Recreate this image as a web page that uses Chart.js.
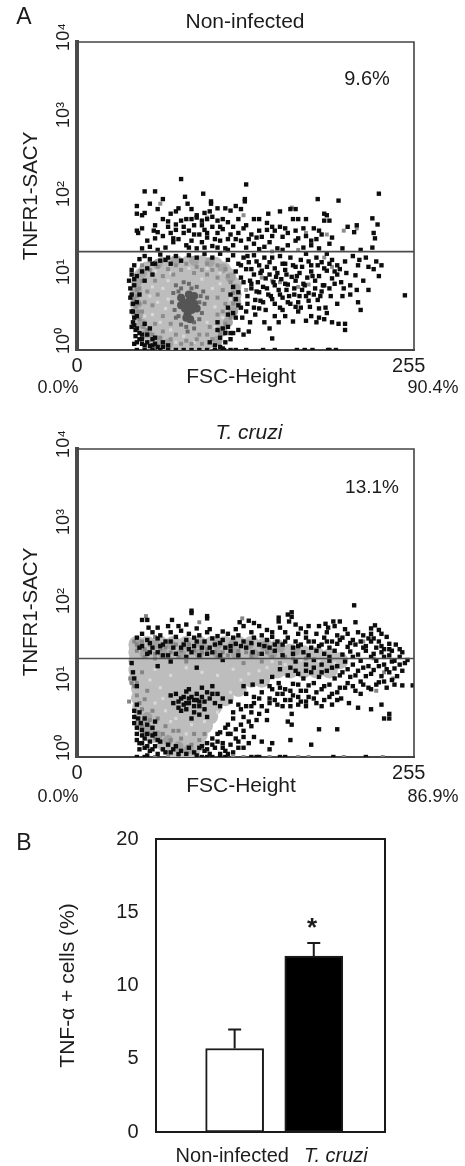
<!DOCTYPE html>
<html><head><meta charset="utf-8">
<script src="https://cdn.jsdelivr.net/npm/chart.js@4"></script>
<style>
html,body{margin:0;padding:0;background:#fff;width:465px;height:1166px;overflow:hidden}
canvas{position:absolute;left:0}
#c1,#c2{filter:blur(0.5px)}
#c3{filter:blur(0.3px)}
</style></head><body>
<canvas id="c1"></canvas><canvas id="c2"></canvas><canvas id="c3"></canvas>
<script>
// ---------- Panel A, Non-infected: [FSC, log10 TNFR1] ----------
const gateLog1 = 1.277, gateLog2 = 1.28;
const p1Black = [[80,2.22],[130,2.15],[232,2.03],[52,2.06],[60,2.06],[83,1.99],[97,2.03],[129,1.96],[129,1.93],[185,1.96],[201,1.94],[46,1.87],[46,1.77],[66,1.96],[56,1.9],[103,1.93],[103,1.9],[85,1.9],[62,1.83],[52,1.78],[50,1.75],[72,1.77],[76,1.8],[78,1.84],[88,1.83],[92,1.75],[98,1.78],[102,1.8],[108,1.84],[114,1.84],[118,1.81],[122,1.87],[126,1.83],[147,1.77],[156,1.8],[164,1.83],[168,1.83],[190,1.77],[192,1.75],[227,1.71],[231,1.63],[215,1.62],[208,1.6],
[46,1.55],[47,1.52],[50,1.58],[59,1.55],[62,1.53],[70,1.67],[70,1.6],[76,1.63],[80,1.68],[84,1.7],[88,1.7],[92,1.72],[96,1.68],[100,1.7],[104,1.73],[108,1.68],[112,1.7],[116,1.66],[120,1.6],[124,1.7],[130,1.62],[136,1.7],[140,1.7],[146,1.65],[150,1.6],[156,1.6],[160,1.58],[166,1.7],[170,1.7],[176,1.7],[182,1.58],[186,1.55],[190,1.68],[194,1.68],[146,1.56],
[54,1.42],[60,1.45],[66,1.48],[72,1.52],[76,1.56],[82,1.6],[86,1.55],[90,1.62],[94,1.5],[98,1.56],[104,1.6],[108,1.52],[112,1.57],[118,1.5],[124,1.52],[128,1.58],[134,1.5],[140,1.55],[142,1.47],[150,1.48],[158,1.47],[162,1.52],[170,1.45],[176,1.48],[180,1.42],[188,1.5],[196,1.46],[228,1.52],[229,1.45],[213,1.53],
[50,1.32],[56,1.34],[62,1.3],[68,1.33],[74,1.4],[78,1.44],[84,1.36],[88,1.42],[92,1.32],[96,1.4],[100,1.46],[104,1.35],[110,1.42],[114,1.32],[120,1.36],[126,1.42],[130,1.33],[136,1.38],[144,1.34],[148,1.4],[154,1.32],[162,1.36],[168,1.42],[174,1.33],[180,1.36],[186,1.32],[194,1.38],[204,1.32],[227,1.33],[218,1.3],
[48,1.18],[44,1.1],[42,1.04],[52,1.22],[56,1.18],[60,1.12],[64,1.24],[68,1.17],[72,1.12],[76,1.22],[80,1.16],[86,1.23],[92,1.2],[98,1.25],[104,1.2],[110,1.25],[116,1.17],[120,1.23],[124,1.12],[128,1.2],[132,1.14],[136,1.23],[140,1.1],[144,1.2],[148,1.14],[152,1.06],[156,1.22],[160,1.12],[164,1.2],[168,1.08],[172,1.17],[176,1.25],[180,1.1],[184,1.2],[188,1.14],[192,1.25],[196,1.17],[200,1.1],[206,1.15],[212,1.22],[216,1.1],[217,1.17],[222,1.2],[224,1.08],[228,1.05],[230,1.15],[234,1.1],
[46,.96],[50,1.02],[54,1.06],[58,.98],[44,.92],[122,1.02],[126,.94],[130,1.05],[133,.9],[136,.98],[139,.88],[142,1.03],[145,.93],[148,.98],[151,.88],[154,1],[157,.92],[160,1.04],[162,.85],[165,.95],[168,.9],[171,1],[174,.86],[177,.94],[180,1.02],[183,.9],[186,.96],[189,.84],[192,1.03],[196,.93],[200,.98],[203,.88],[207,1],[210,.84],[214,.97],[220,.9],[224,.78],[215,.78],[210,.72],[205,.8],[232,.96],
[41,.8],[42,.72],[41,.68],[43,.6],[120,.82],[124,.75],[128,.88],[131,.7],[134,.8],[137,.65],[140,.75],[143,.62],[146,.8],[149,.7],[152,.6],[155,.78],[158,.68],[161,.78],[164,.6],[167,.72],[170,.62],[173,.78],[176,.7],[179,.56],[182,.72],[185,.65],[188,.76],[191,.55],[195,.7],[200,.6],[204,.7],[252,.71],[216,.62],[218,.52],[192,.48],[186,.42],[170,.5],[160,.44],
[43,.5],[44,.42],[43,.36],[42,.3],[45,.26],[48,.22],[116,.55],[120,.48],[124,.58],[127,.42],[130,.5],[133,.36],[137,.46],[140,.54],[144,.36],[148,.28],[152,.44],[155,.36],[158,.52],[168,.56],[176,.38],[180,.44],[184,.36],[190,.4],[196,.36],[201,.34],[206,.34],[166,.37],
[45,.18],[50,.14],[54,.2],[46,.1],[44,.08],[58,.14],[60,.08],[52,.06],[56,.05],[62,.04],[66,.1],[70,.06],[108,.36],[112,.28],[116,.3],[120,.22],[124,.26],[128,.2],[132,.24],[118,.14],[114,.1],[110,.16],[106,.06],[112,.02],[102,.1],[206,.26],[150,.15],
[46,0],[52,0],[58,0],[64,0],[70,0],[76,0],[82,0],[88,0],[94,0],[100,0],[106,0],[113,0],[118,0],[122,0],[130,0],[143,0],[152,0],[169,0],[175,0],[181,0],[193,0],[199,0],[194,0],
[126,1.1],[131,1.22],[134,1.05],[138,1.15],[141,1],[146,1.08],[150,1.2],[153,.95],[158,1.12],[161,.98],[166,1.1],[169,.96],[173,1.08],[178,1.15],[181,.96],[185,1.1],[190,1.06],[194,1.12],[198,1.02],[202,1.05],[134,.86],[138,.76],[143,.82],[147,.72],[152,.84],[156,.72],[160,.86],[163,.7],[167,.8],[171,.7],[175,.84],[178,.74],[183,.8],[187,.7],[190,.84],[194,.8],[198,.86],[131,.6],[136,.55],[141,.64],[145,.52],[150,.66],[156,.55],[162,.62],[172,.55],[178,.64],[186,.54],[122,.66],[118,.72],[126,.55],[122,.42],[116,.46],[118,.22],[114,.22],[110,.04],[108,.26],
[42,.98],[40,.9],[44,.84],[42,.5],[46,.44],[44,.32],[46,.28],[50,.2],[48,.14],[54,.1],[58,.06],[66,.04],[46,.62],[48,.72],[52,.9],[52,.34],[56,.28],[60,.16],[50,.08],[64,1.16],[70,1.2],[58,1.12],
[60,1.62],[66,1.7],[74,1.45],[82,1.52],[90,1.5],[96,1.62],[100,1.52],[106,1.44],[110,1.6],[116,1.44],[122,1.44],[132,1.44],[138,1.46],[152,1.55],[168,1.55],[174,1.58],[184,1.44],[86,1.33],[98,1.33],[108,1.33],[116,1.3],[140,1.31],[158,1.3]];
const p1Mid = [[50,1.1],[56,1.04],[62,1.08],[70,1.05],[76,1.1],[84,1.12],[92,1.08],[100,1.12],[108,1.1],[114,1.05],[50,.9],[48,.8],[46,.7],[48,.6],[47,.5],[48,.4],[51,.3],[54,.26],[58,.2],[64,.16],[72,.14],[80,.08],[88,.08],[96,.08],[104,.14],[110,.22],[114,.34],[118,.42],[120,.6],[120,.74],[118,.88],[116,.96],[66,.96],[74,.98],[90,1],[100,.98],[108,.94],[72,.34],[66,.44],[102,.3],[108,.46],[58,.58],[62,.72],[108,.68],[60,.9],[94,.2],[76,.2],[130,.78],[150,.9],[178,.85],[190,1.2],[170,1.3],[150,1.28],[64,1.9],[100,1.72],[128,1.75],[165,1.85],[205,1.55],[215,1.58],[176,1.52],[192,1.5],[44,.66],[45,.56],[46,.78],[50,.5],[52,.62],[54,.76],[56,1.16],[80,1.04],[96,1.04],[104,1.04],[112,.78],[114,.6],[112,.5],[60,.34],[66,.24],[84,.12],[92,.14],[100,.2],[156,.88],[142,.94],[170,.82],[196,1.08]];
const p1Core = [[85,.6],[87,.66],[83,.54],[88,.52],[82,.62],[90,.6],[85,.47],[86,.72],[80,.58],[92,.54],[84,.42],[87,.4],[80,.68],[90,.7]];
const p1Speck = [[76,.84],[80,.8],[86,.86],[92,.82],[97,.76],[100,.68],[98,.6],[96,.48],[94,.4],[90,.36],[84,.3],[80,.33],[78,.44],[75,.52],[73,.62],[74,.74],[78,.76],[95,.7],[82,.88],[88,.8],[94,.62],[76,.42],[90,.28],[85,.24]];
const p1Fleck = [[60,1.02],[72,1],[86,1.06],[100,1.06],[110,1],[58,.82],[66,.8],[70,.66],[62,.62],[58,.46],[68,.54],[64,.36],[72,.26],[82,.18],[90,.1],[100,.36],[106,.56],[104,.8],[110,.86],[118,.66],[112,.42],[56,.7],[52,.44],[76,.1],[70,.9],[96,.92],[106,.3]];
const p1Rim = [[50,1],[46,.88],[46,.74],[46,.6],[47,.46],[50,.34],[54,.22],[62,.12],[70,.08],[108,.12],[112,.24],[116,.36],[120,.5],[122,.64],[122,.8],[118,.94],[112,1.06],[102,1.14],[90,1.16],[76,1.16],[62,1.12]];
const p1Light = [[66,1.1],[76,1.12],[86,1.12],[96,1.12],[106,1.1],[54,1.04],[62,1.04],[72,1.04],[82,1.04],[92,1.04],[102,1.04],[112,1.04],[50,.96],[58,.96],[68,.96],[78,.96],[88,.96],[98,.96],[108,.96],[116,.96],[48,.84],[55,.84],[65,.84],[75,.84],[85,.84],[95,.84],[105,.84],[115,.84],[120,.84],[47,.72],[54,.72],[64,.72],[74,.72],[84,.72],[94,.72],[104,.72],[114,.72],[120,.72],[47,.6],[54,.6],[64,.6],[74,.6],[84,.6],[94,.6],[104,.6],[114,.6],[120,.6],[48,.48],[55,.48],[65,.48],[75,.48],[85,.48],[95,.48],[105,.48],[115,.48],[50,.36],[56,.36],[66,.36],[76,.36],[86,.36],[96,.36],[106,.36],[110,.36],[54,.24],[60,.24],[70,.24],[80,.24],[90,.24],[100,.24],[106,.24],[60,.12],[66,.12],[76,.12],[86,.12],[96,.12],[100,.12],[68,.03],[74,.03],[84,.03],[92,.03],[96,.03]];

// ---------- Panel A, T. cruzi: [FSC, log10 TNFR1] ----------
const p2Black = [[213,1.97],[88,1.9],[88,1.87],[100,1.83],[100,1.8],[165,1.88],[162,1.85],[165,1.82],[155,1.81],[155,1.76],[163,1.76],[50,1.78],[54,1.78],[73,1.78],[197,1.76],[202,1.76],[191,1.73],[193,1.68],[214,1.75],[125,1.75],[132,1.77],[136,1.74],[140,1.7],[229,1.71],[226,1.67],[232,1.65],
[55,1.68],[62,1.68],[70,1.7],[78,1.7],[84,1.72],[92,1.67],[102,1.66],[112,1.63],[128,1.7],[122,1.66],[146,1.65],[150,1.62],[156,1.68],[168,1.72],[172,1.67],[178,1.7],[186,1.7],[198,1.7],[206,1.66],[216,1.62],[226,1.6],[234,1.6],
[50,1.6],[58,1.62],[64,1.58],[72,1.62],[80,1.64],[86,1.6],[94,1.58],[100,1.62],[108,1.57],[116,1.6],[124,1.58],[134,1.62],[142,1.58],[150,1.56],[160,1.62],[170,1.6],[176,1.62],[184,1.6],[192,1.62],[200,1.58],[208,1.6],[220,1.58],[228,1.54],[238,1.56],
[46,1.55],[54,1.52],[62,1.54],[68,1.5],[76,1.56],[84,1.52],[90,1.55],[98,1.5],[104,1.54],[112,1.52],[120,1.55],[128,1.5],[136,1.55],[146,1.52],[154,1.5],[162,1.55],[168,1.5],[176,1.55],[182,1.5],[190,1.55],[196,1.5],[204,1.55],[212,1.52],[218,1.5],[224,1.54],[232,1.5],[240,1.47],
[50,1.44],[58,1.42],[66,1.46],[74,1.42],[82,1.46],[90,1.44],[96,1.42],[106,1.46],[114,1.42],[122,1.47],[130,1.42],[140,1.46],[148,1.42],[158,1.46],[166,1.42],[172,1.46],[180,1.42],[188,1.46],[194,1.42],[200,1.47],[208,1.43],[214,1.46],[222,1.44],[230,1.42],[236,1.4],[245,1.46],[248,1.4],
[54,1.34],[62,1.36],[70,1.32],[88,1.36],[100,1.34],[118,1.38],[135,1.36],[152,1.38],[166,1.34],[174,1.36],[184,1.38],[190,1.34],[198,1.38],[204,1.33],[210,1.37],[216,1.33],[222,1.38],[228,1.34],[234,1.36],[240,1.32],[242,1.38],[248,1.3],[250,1.36],
[42,1.22],[62,1.18],[72,1.24],[92,1.16],[112,1.26],[168,1.24],[176,1.2],[182,1.26],[188,1.2],[194,1.25],[200,1.18],[206,1.24],[212,1.2],[218,1.25],[224,1.18],[230,1.25],[236,1.2],[242,1.24],[248,1.2],[252,1.22],[254,1.26],
[150,1.04],[156,1.14],[162,1.06],[168,1.12],[174,1.02],[180,1.1],[186,1.04],[192,1.12],[198,1.02],[204,1.1],[210,1.04],[216,1.12],[222,1.05],[228,1.13],[234,1.05],[240,1.1],[246,1.05],[250,1.12],[43,1.1],[44,1.02],[46,.92],
[128,.92],[135,.94],[142,.98],[148,.92],[155,.96],[160,.88],[166,.95],[172,.86],[178,.93],[184,.84],[190,.92],[196,.82],[202,.9],[208,.96],[214,.86],[220,.94],[226,.88],[232,.97],[238,.9],[244,.94],[250,.93],[258,.93],[218,.82],
[130,.82],[136,.78],[142,.84],[148,.76],[154,.82],[160,.74],[166,.8],[172,.72],[178,.78],[184,.7],[190,.74],[196,.68],[203,.76],[209,.7],[216,.64],[234,.68],
[118,.72],[124,.68],[130,.66],[136,.7],[142,.66],[148,.7],[154,.68],[158,.66],[164,.66],[170,.68],[176,.66],[226,.62],[240,.56],[236,.5],[146,.48],[165,.56],[162,.46],[165,.42],[240,.5],
[72,.8],[76,.82],[80,.76],[84,.85],[86,.7],[88,.78],[90,.66],[92,.82],[94,.72],[96,.9],[98,.62],[100,.84],[102,.76],[104,.92],[106,.7],[84,.62],[82,.68],[78,.72],[90,.58],[94,.55],[88,.5],[86,.88],[108,.82],[112,.76],[110,.66],[100,.52],[80,.6],[92,.74],
[128,.52],[134,.58],[140,.56],[126,.42],[132,.46],[138,.48],[122,.36],[128,.34],[134,.4],[116,.3],[122,.24],[128,.26],[112,.18],[118,.16],[124,.2],[114,.08],[120,.06],[132,.18],[136,.26],[142,.2],[150,.18],[164,.22],[186,.36],[200,.36],[180,.16],[148,.1],
[47,.5],[49,.44],[46,.38],[50,.35],[54,.42],[58,.38],[60,.3],[46,.22],[48,.18],[52,.24],[56,.2],[60,.14],[64,.2],[48,.1],[52,.12],[56,.08],[66,.1],[70,.16],[72,.06],[76,.14],[80,.08],[84,.04],[90,.06],[94,.12],[98,.08],[102,.04],[106,.12],[110,.04],[62,.04],[54,.02],[100,.18],[104,.24],[108,.3],[44,.6],[46,.68],
[46,0],[52,0],[96,0],[100,0],[104,0],[110,0],[114,0],[134,0],[138,0],[140,0],[156,0],[160,0],[197,0],[222,0],
[48,1.42],[56,1.48],[64,1.44],[72,1.5],[80,1.42],[86,1.4],[92,1.5],[102,1.42],[110,1.48],[118,1.44],[126,1.44],[134,1.48],[144,1.44],[152,1.46],[160,1.5],[170,1.44],[178,1.5],[186,1.44],[192,1.5],[202,1.52],[210,1.48],[220,1.42],[226,1.5],[234,1.44],[240,1.4],[56,1.36],[66,1.32],[76,1.34],[84,1.3],[94,1.32],[104,1.36],[110,1.32],[124,1.32],[142,1.34],[158,1.32],[178,1.32],[194,1.3],[212,1.3],[226,1.3],[236,1.3],[244,1.25],
[164,1.16],[170,1.08],[176,1.12],[182,1.16],[188,1.1],[196,1.16],[202,1.06],[208,1.14],[214,1.06],[220,1.16],[226,1.08],[232,1.18],[238,1.14],[244,1.15],[150,.88],[156,.9],[164,.86],[170,.94],[176,.86],[182,.96],[188,.88],[194,.94],[200,.84],[206,.9],[212,.92],[218,.98],[224,.9],[230,.94],[236,.98],[242,1],[152,.74],[158,.82],[164,.74],[170,.78],[176,.72],[182,.76],[188,.66],[194,.78],[200,.74],[120,.58],[126,.62],[134,.66],[140,.76],[146,.6],[116,.42],[120,.5],[110,.32],[114,.38],[118,.3],[112,.12],[116,.04],[124,.12],[128,.12],[108,.2],
[44,.44],[46,.3],[50,.28],[54,.3],[58,.28],[62,.22],[50,.18],[54,.14],[58,.1],[68,.06],[74,.1],[78,.04],[86,.12],[92,.02],[96,.14],[100,.1],[104,.16],[44,.52],[48,.58],[60,.46],[52,.5],
[74,.7],[78,.64],[82,.78],[86,.76],[94,.66],[96,.78],[98,.72],[104,.82],[90,.74],[84,.7]];
const p2Mid = [[44,1.5],[50,1.5],[56,1.46],[64,1.4],[72,1.36],[80,1.38],[90,1.38],[96,1.36],[106,1.36],[112,1.36],[124,1.38],[130,1.36],[140,1.34],[146,1.36],[158,1.33],[46,1.38],[52,1.3],[60,1.28],[78,1.3],[84,1.24],[108,1.3],[128,1.22],[142,1.24],[156,1.22],[160,1.3],[176,1.28],[60,1.56],[53,1.83],[94,1.75],[127,1.8],[220,1.5],[228,1.28],[236,1.1],[243,1.02],[230,.86],[50,.4],[52,.3],[56,.48],[62,.5],[68,.4],[74,.34],[66,.3],[72,.22],[80,.24],[78,.34],[88,.16],[94,.22],[98,.3],[60,.24],[90,.3],[44,.92],[42,.96],[41,1.02],[40,.72],[70,0],[78,0],[60,0],[120,0],[128,0],[148,0],[170,0],[178,0],[205,0],[235,0],[46,1.46],[52,1.4],[60,1.34],[68,1.42],[76,1.46],[86,1.46],[100,1.4],[116,1.32],[134,1.3],[150,1.3],[166,1.28],[48,.7],[46,.8],[50,.62],[52,.75],[54,.86],[58,.6],[46,.96],[50,1.1]];
const p2Fleck = [[60,1.14],[72,1.06],[84,1.16],[96,1.1],[108,1.06],[120,1.14],[132,1.08],[146,1.16],[160,1.2],[172,1.26],[186,1.24],[198,1.22],[64,.9],[74,.82],[60,.7],[68,.6],[76,.5],[88,.42],[98,.46],[108,.58],[118,.84],[126,1],[140,1.12],[72,.46],[84,.3],[66,.76],[56,1],[150,1.24]];
const p2Rim = [[48,1.46],[60,1.46],[72,1.46],[84,1.46],[96,1.46],[108,1.46],[120,1.46],[132,1.46],[144,1.44],[156,1.42],[168,1.38],[52,1.34],[66,1.34],[80,1.34],[94,1.34],[108,1.34],[122,1.34],[136,1.34],[150,1.34],[50,.42],[56,.34],[62,.28],[70,.22],[78,.14],[86,.1],[54,.52]];
const p2Light = [[46,1.46],[54,1.46],[64,1.46],[74,1.46],[84,1.46],[94,1.46],[104,1.46],[114,1.46],[124,1.46],[134,1.46],[144,1.44],[154,1.42],[46,1.36],[54,1.36],[64,1.36],[74,1.36],[84,1.36],[94,1.36],[104,1.36],[114,1.36],[124,1.36],[134,1.36],[144,1.36],[154,1.36],[164,1.36],[174,1.34],[184,1.32],[194,1.3],[46,1.25],[54,1.25],[64,1.25],[74,1.25],[84,1.25],[94,1.25],[104,1.25],[114,1.25],[124,1.25],[134,1.25],[144,1.25],[154,1.25],[164,1.25],[174,1.25],[184,1.25],[194,1.25],[202,1.25],[46,1.13],[54,1.13],[64,1.13],[74,1.13],[84,1.13],[94,1.13],[104,1.13],[114,1.13],[124,1.13],[134,1.13],[144,1.13],[154,1.13],[164,1.13],[174,1.13],[184,1.13],[194,1.13],[46,1.01],[54,1.01],[64,1.01],[74,1.01],[84,1.01],[94,1.01],[104,1.01],[114,1.01],[124,1.01],[134,1.01],[142,1.01],[48,.89],[56,.89],[66,.89],[76,.89],[86,.89],[96,.89],[106,.89],[116,.89],[124,.89],[48,.77],[56,.77],[66,.77],[76,.77],[86,.77],[96,.77],[106,.77],[114,.77],[49,.65],[57,.65],[67,.65],[77,.65],[87,.65],[97,.65],[105,.65],[50,.53],[58,.53],[68,.53],[78,.53],[88,.53],[98,.53],[102,.53],[52,.41],[60,.41],[70,.41],[80,.41],[90,.41],[98,.41],[58,.29],[66,.29],[76,.29],[86,.29],[94,.29],[68,.17],[78,.17],[88,.17],[92,.17],[76,.05],[84,.05],[88,.05]];

// ---------- Panel B ----------
const barCategories = ['Non-infected','T. cruzi'];
const barValues = [5.7, 12.0];
const barErrorTops = [7.0, 12.9];
const barPositions = [1, 2];
const barLabelPositions = [0.97, 2.28];
const barTickValues = [0,5,10,15,20];

// ---------- Axis tick values ----------
const fscMajorLabels = [0, 255];
const fscTicks = [0,10,20,30,40,50,60,70,80,90,100,110,120,130,140,150,160,170,180,190,200,210,220,230,240,250,255];
const decades = [0,1,2,3,4];
const decadeLabels = ['10⁰','10¹','10²','10³','10⁴'];
const decadeLabelShift = [-9,-1,-2,-4,-5];

const SANS = '"Liberation Sans", Arial, sans-serif';
Chart.defaults.font.family = SANS;
Chart.defaults.animation = false;
Chart.defaults.responsive = false;
const dpr = 1;

function size(id, top, h){
  const c = document.getElementById(id);
  c.width = 465; c.height = h;
  c.style.top = top+'px'; c.style.width='465px'; c.style.height=h+'px';
  return c;
}
function put(ctx, s, x, y, font, rot){
  ctx.save(); ctx.font = font; ctx.fillStyle = '#1c1c1c'; ctx.textAlign='center'; ctx.textBaseline='alphabetic';
  ctx.translate(x,y); if(rot) ctx.rotate(-Math.PI/2); ctx.fillText(s,0,0); ctx.restore();
}
function flow(id, top, h, plotTop, plotBottom, black, layers, gate, texts){
  const c = size(id, top, h);
  const dots = (data, color, radius, style) => ({type:'scatter', data:data.map(p=>({x:p[0],y:p[1]})), backgroundColor:color, borderWidth:0, pointRadius:radius, pointHoverRadius:radius, pointStyle:style});
  new Chart(c, {
    type:'scatter',
    data:{datasets:[
      {type:'line', data:[{x:0,y:gate},{x:259,y:gate}], borderColor:'#4d4d4d', borderWidth:1.6, pointRadius:0},
      dots(black,'#0d0d0d',3.1,'rect'),
      ...layers.map(l=>dots(l[0],l[1],l[2],l[3]))
    ]},
    options:{
      devicePixelRatio:dpr,
      layout:{padding:{left:0,right:51,top:plotTop,bottom:0}},
      plugins:{legend:{display:false},tooltip:{enabled:false},title:{display:false}},
      scales:{
        x:{type:'linear',min:0,max:259,
          afterBuildTicks:s=>{s.ticks=fscTicks.map(v=>({value:v}));},
          afterFit:s=>{s.height=h-plotBottom;},
          grid:{display:false,drawTicks:true,tickLength:4,tickColor:'#333',tickWidth:1},
          border:{display:true,color:'#444',width:2},
          ticks:{autoSkip:false,maxRotation:0,color:'#1c1c1c',font:{size:20},padding:0,callback:v=>fscMajorLabels.includes(v)?String(v):''}},
        y:{type:'linear',min:0,max:4,
          afterBuildTicks:s=>{const t=[];decades.forEach(d=>{t.push({value:d});if(d<4)[2,3,4,5,6,7,8,9].forEach(m=>t.push({value:d+Math.log10(m)}));});s.ticks=t;},
          afterFit:s=>{s.width=77;},
          grid:{display:false,drawTicks:true,tickLength:3,tickColor:'#333',tickWidth:1},
          border:{display:true,color:'#4a4a4a',width:4},
          ticks:{display:false,autoSkip:false}}
      }
    },
    plugins:[{id:'frame',afterDraw(ch){
      const a=ch.chartArea,x=ch.ctx; x.save(); x.strokeStyle='#444'; x.lineWidth=1.6;
      x.beginPath(); x.moveTo(a.left,a.top); x.lineTo(a.right,a.top); x.lineTo(a.right,a.bottom); x.stroke(); x.restore();
      decades.forEach((d,i)=>put(x,decadeLabels[i],69,ch.scales.y.getPixelForValue(d)+decadeLabelShift[i],'18px '+SANS,true));
      texts.forEach(t=>put(x,...t));
    }}]
  });
}
const reg20='20px '+SANS, reg18='18px '+SANS;
flow('c1',0,400,42,350,p1Black,[
  [p1Core,'#555555',4,'circle'],[p1Speck,'#6a6a6a',2.8,'rect'],[p1Mid,'#8c8c8c',2.8,'rect'],[p1Fleck,'#d8d8d8',2.2,'rect'],[p1Rim,'#a4a4a4',5,'circle'],[p1Light,'#bdbdbd',8.5,'circle']
],gateLog1,[
  ['A',24,24,'23px '+SANS],['Non-infected',245,28,'21px '+SANS],['9.6%',367,85,reg20],
  ['FSC-Height',241,383,'21px '+SANS],['0.0%',58,393,reg18],['90.4%',433,393,reg18],
  ['TNFR1-SACY',37,196,'20.5px '+SANS,true]
]);
flow('c2',400,410,49,357,p2Black,[
  [p2Mid,'#858585',2.8,'rect'],[p2Fleck,'#d8d8d8',2.2,'rect'],[p2Rim,'#a0a0a0',5,'circle'],[p2Light,'#bdbdbd',8.5,'circle']
],gateLog2,[
  ['T. cruzi',249,39,'italic 21px '+SANS],['13.1%',372,93,'19px '+SANS],
  ['FSC-Height',241,392,'21px '+SANS],['0.0%',58,402,reg18],['86.9%',433,402,reg18],
  ['TNFR1-SACY',37,212,'20.5px '+SANS,true]
]);

const c3=size('c3',810,356);
new Chart(c3,{
  type:'bar',
  data:{labels:barCategories,datasets:[{
    data:barPositions.map((p,i)=>({x:p,y:barValues[i]})),
    backgroundColor:['#ffffff','#000000'],borderColor:'#1a1a1a',borderWidth:2,barThickness:58,borderSkipped:false
  }]},
  options:{
    devicePixelRatio:dpr,
    layout:{padding:{left:0,right:80,top:29,bottom:0}},
    plugins:{legend:{display:false},tooltip:{enabled:false}},
    scales:{
      x:{type:'linear',offset:false,min:0,max:2.9,
        afterBuildTicks:s=>{s.ticks=barLabelPositions.map(v=>({value:v}));},
        afterFit:s=>{s.height=34;},
        grid:{display:false,offset:false,drawTicks:false},border:{display:true,color:'#1a1a1a',width:2},
        ticks:{autoSkip:false,maxRotation:0,padding:12,color:'#1c1c1c',
          font:c=>({size:20,style:c.index===1?'italic':'normal'}),
          callback:(v,i)=>barCategories[i]}},
      y:{type:'linear',min:0,max:20,
        afterBuildTicks:s=>{s.ticks=barTickValues.map(v=>({value:v}));},
        afterFit:s=>{s.width=155.5;},
        grid:{display:false,drawTicks:true,tickLength:4,tickColor:'#1a1a1a',tickWidth:1.5},
        border:{display:true,color:'#1a1a1a',width:2},
        title:{display:true,text:'TNF-α + cells (%)',color:'#1c1c1c',font:{size:21},padding:{top:56,bottom:0}},
        ticks:{padding:13,color:'#1c1c1c',font:{size:20}}}
    }
  },
  plugins:[{id:'extras',afterDatasetsDraw(ch){
    const a=ch.chartArea,x=ch.ctx,sx=ch.scales.x,sy=ch.scales.y;
    x.save(); x.strokeStyle='#1a1a1a'; x.lineWidth=2;
    x.beginPath(); x.moveTo(a.left,a.top); x.lineTo(a.right,a.top); x.lineTo(a.right,a.bottom); x.stroke();
    barPositions.forEach((p,i)=>{
      const px=sx.getPixelForValue(p),t=sy.getPixelForValue(barErrorTops[i]),b=sy.getPixelForValue(barValues[i]);
      x.beginPath(); x.moveTo(px,b); x.lineTo(px,t); x.moveTo(px-6.5,t); x.lineTo(px+6.5,t); x.stroke();
    });
    x.restore();
    put(x,'B',24,40,'23px '+SANS);
    put(x,'*',312,126,'bold 26px '+SANS);
  }}]
});
</script>
</body></html>
